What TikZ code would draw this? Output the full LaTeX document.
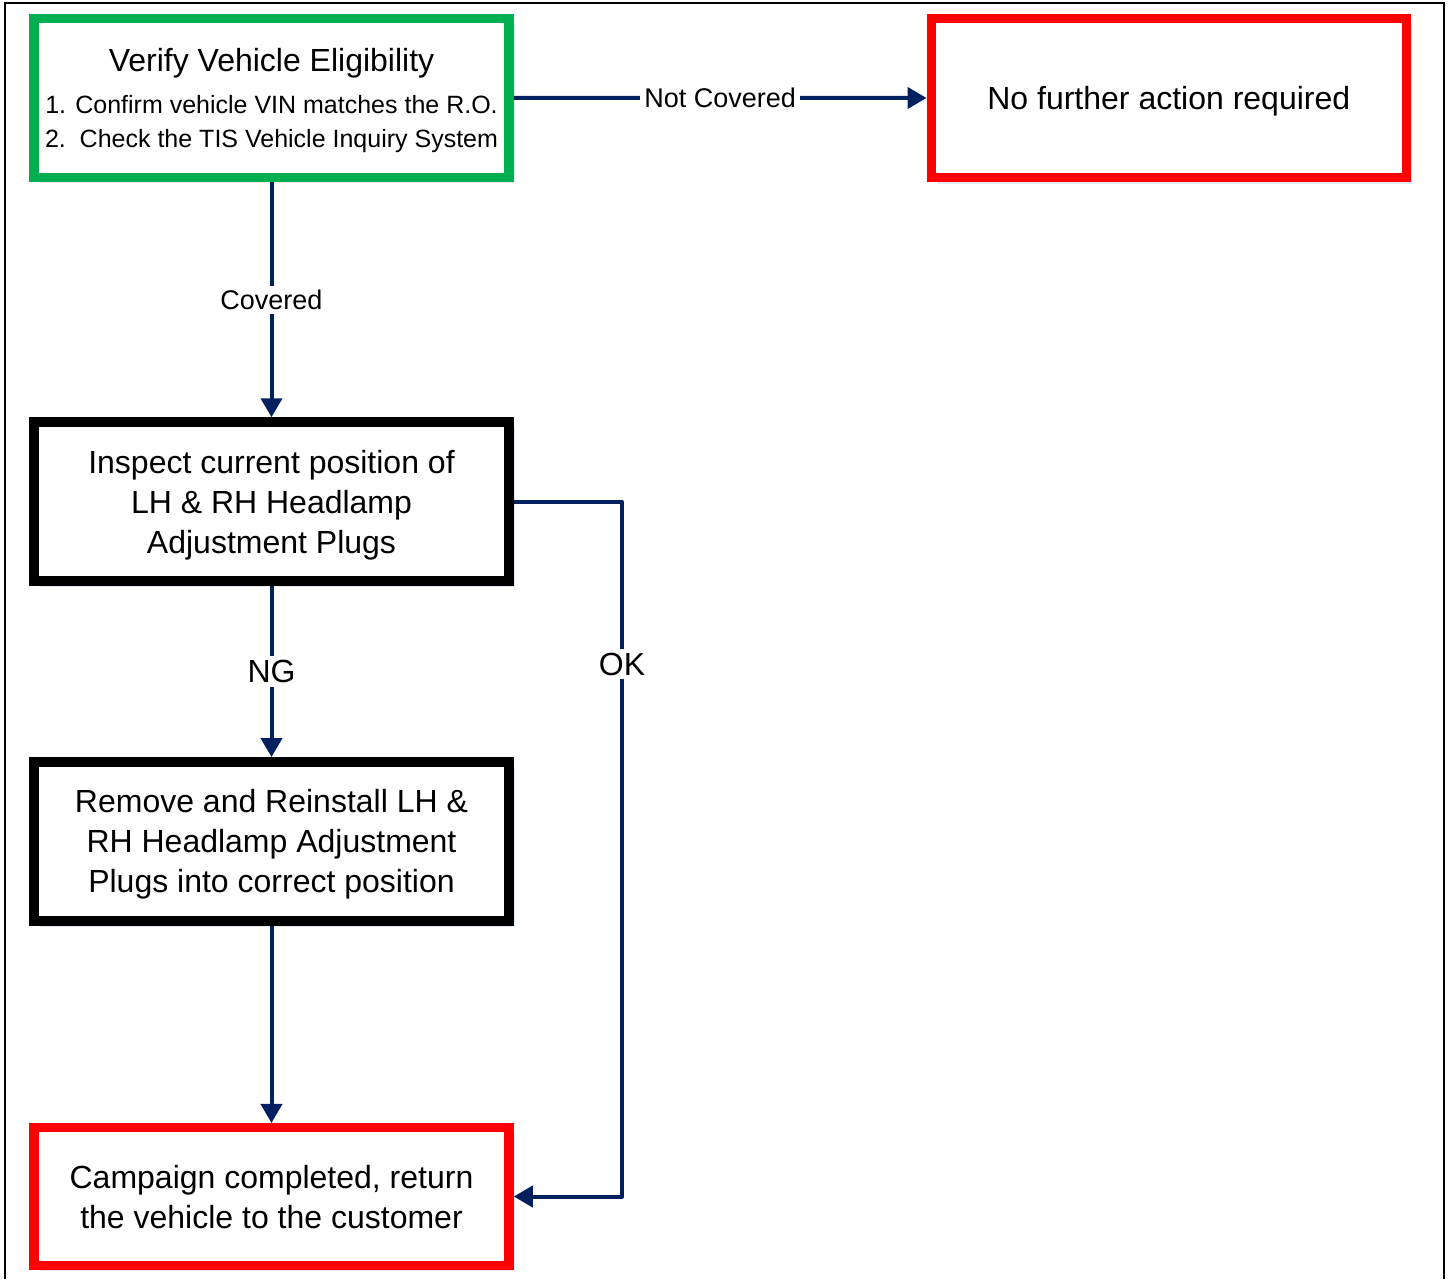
\documentclass[tikz,border=0pt]{standalone}
\usepackage{fontspec}
\setmainfont{Liberation Sans}
\usetikzlibrary{arrows.meta,shadows}
\definecolor{flownavy}{RGB}{0,32,96}
\definecolor{boxgreen}{RGB}{0,176,80}
\definecolor{boxred}{RGB}{255,0,0}
\definecolor{halo}{RGB}{226,234,248}
\tikzset{
  box/.style={draw, line width=4.75pt, fill=white, minimum width=237.5pt,
    minimum height=79.5pt, align=center, inner sep=0pt, text depth=0pt,
    font=\fontsize{16}{20}\selectfont,
    drop shadow={shadow xshift=3pt, shadow yshift=-3pt, fill=halo, opacity=1}},
  flow/.style={draw=flownavy, line width=2pt, line join=round,
    -{Triangle[length=9.5pt,width=10.5pt]}},
  lbl/.style={fill=white, text=black, inner sep=2pt,
    font=\fontsize{13.5}{16}\selectfont},
  biglbl/.style={lbl, font=\fontsize{16}{18}\selectfont},
}
\begin{document}
\begin{tikzpicture}[x=0.5pt,y=-0.5pt]
      \useasboundingbox (0,0) rectangle (1449,1279);
      \draw[line width=0.75pt] (5,1279) -- (5,3) -- (1444,3) -- (1444,1279);
      \node[box, draw=boxgreen, font=\fontsize{12.5}{17}\selectfont] (verify) at (271.5,97.8)
        {{\fontsize{16}{20}\selectfont Verify Vehicle Eligibility}\\[4pt]
         1. Confirm vehicle VIN matches the R.O.\\
         2.~~Check the TIS Vehicle Inquiry System};
      \node[box, draw=boxred] (nfar) at (1168.8,98) {No further action required};
      \node[box] (inspect) at (271.5,501.5)
        {Inspect current position of\\LH \& RH Headlamp\\Adjustment Plugs};
      \node[box] (remove) at (271.5,841.3)
        {Remove and Reinstall LH \&\\RH Headlamp Adjustment\\Plugs into correct position};
      \node[box, draw=boxred, minimum height=68.8pt] (campaign) at (271.5,1196.5)
        {Campaign completed, return\\the vehicle to the customer};
      \coordinate (okcorner) at (622,1196.5);
      \begin{scope}[flow]
        \draw (verify.east) -- node[lbl] {Not Covered} (nfar.west);
        \draw (verify.south) -- node[lbl] {Covered} (inspect.north);
        \draw (inspect.south) -- node[biglbl] {NG} (remove.north);
        \draw (remove.south) -- (campaign.north);
        \draw (inspect.east) -| node[biglbl, pos=0.617] {OK} (okcorner) -- (campaign.east);
      \end{scope}
    \end{tikzpicture}
\end{document}
